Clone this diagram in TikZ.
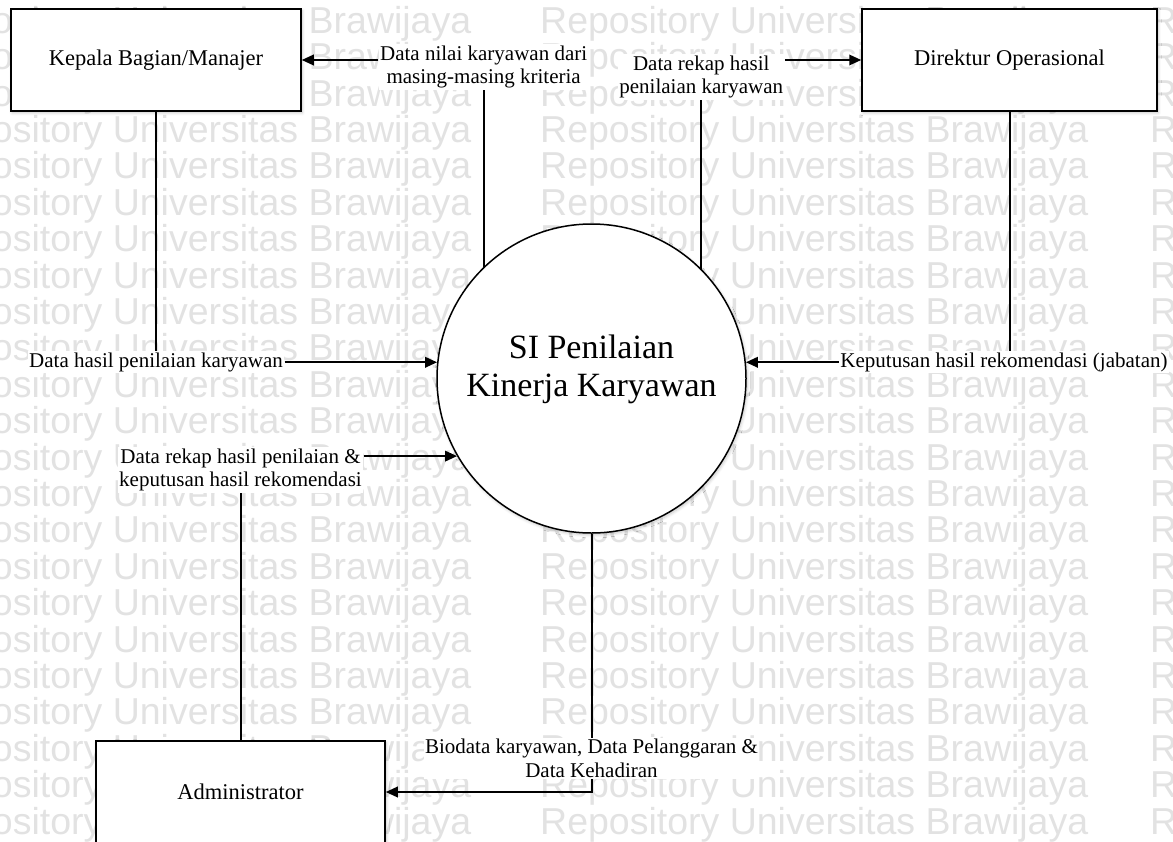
\documentclass[tikz,border=0pt]{standalone}
\usepackage{fontspec}
\setmainfont{Liberation Serif}
\newfontfamily\wmfont{Liberation Sans}
\usetikzlibrary{arrows.meta,shadows.blur}
\definecolor{wmgray}{gray}{0.885}
\begin{document}
\begin{tikzpicture}[x=1pt,y=-1pt,
  entity/.style={draw, line width=1.5pt, fill=white, minimum height=102pt,
    inner sep=0pt, font=\fontsize{22.5}{26}\selectfont,
    blur shadow={shadow xshift=1.2pt, shadow yshift=-1.8pt,
      shadow blur steps=6, shadow opacity=22, shadow blur radius=3pt}},
  process/.style={circle, draw, line width=1.5pt, fill=white, inner sep=0pt,
    minimum size=309pt,
    blur shadow={shadow xshift=1.2pt, shadow yshift=-1.8pt,
      shadow blur steps=6, shadow opacity=22, shadow blur radius=3pt}},
  flowlbl/.style={fill=white, inner sep=1.5pt, align=center,
    font=\fontsize{21}{23.5}\selectfont},
  flow/.style={line width=2pt},
  flowarrow/.style={flow, -{Triangle[length=12pt,width=10.5pt]}},
  wmtext/.style={anchor=base west, inner sep=0pt, text=wmgray,
    font=\wmfont\fontsize{37.5}{37.5}\selectfont},
]
\useasboundingbox (0,0) rectangle (1173,841);
\clip (0,0) rectangle (1173,841);

% background watermark rows
\foreach \k in {-2,...,22} {
  \foreach \x [count=\j] in {-77,540,1150} {
    \node[wmtext] (wm-\k-\j) at (\x,{106+36.4*\k})
      {Repository Universitas Brawijaya};
  }
}

% external entities
\node[entity, minimum width=290pt] (kb)  at (156,60)    {Kepala Bagian/Manajer};
\node[entity, minimum width=295pt] (dir) at (1009.5,60) {Direktur Operasional};
\node[entity, minimum width=289pt] (adm) at (240.5,792) {Administrator};

% process
\node[process] (pr) at (591.5,378.5) {};
\node[align=center, inner sep=0pt, font=\fontsize{34}{38.5}\selectfont]
  (prt) at (591.5,369.5) {SI Penilaian\\Kinerja Karyawan};

% data flow labels
\node[flowlbl] (l1) at (pr.134.6 |- 0,67)
  {Data nilai karyawan dari\\masing-masing kriteria};
\node[flowlbl] (l2) at (pr.45.9 |- 0,77)
  {Data rekap hasil\\penilaian karyawan};
\node[flowlbl] (l3) at (kb.south |- pr.174)
  {Data hasil penilaian karyawan};
\node[flowlbl, xshift=-5.5pt] (l4) at (dir.south |- pr.6)
  {Keputusan hasil rekomendasi (jabatan)};
\node[flowlbl, yshift=-13.7pt] (l5) at (adm.north |- pr.210.9)
  {Data rekap hasil penilaian \&\\keputusan hasil rekomendasi};
\node[flowlbl] (l6) at (pr.south |- 0,758.5)
  {Biodata karyawan, Data Pelanggaran \&\\Data Kehadiran};

% data flows
\draw[flow] (pr.134.6) -- (l1.south);
\draw[flowarrow] (l1.west |- kb.east) -- (kb.east);

\draw[flow] (pr.45.9) -- (l2.south);
\draw[flowarrow] (l2.east |- dir.west) -- (dir.west);

\draw[flow] (kb.south) -- (l3.north);
\draw[flowarrow] (l3.east) -- (pr.174);

\draw[flow] (dir.south) -- (dir.south |- l4.north);
\draw[flowarrow] (l4.west) -- (pr.6);

\draw[flow] (adm.north) -- (l5.south);
\draw[flowarrow] (l5.east |- pr.210.9) -- (pr.210.9);

\draw[flow] (pr.south) -- (l6.north);
\draw[flowarrow] (l6.south) |- (adm.east);
\end{tikzpicture}
\end{document}
